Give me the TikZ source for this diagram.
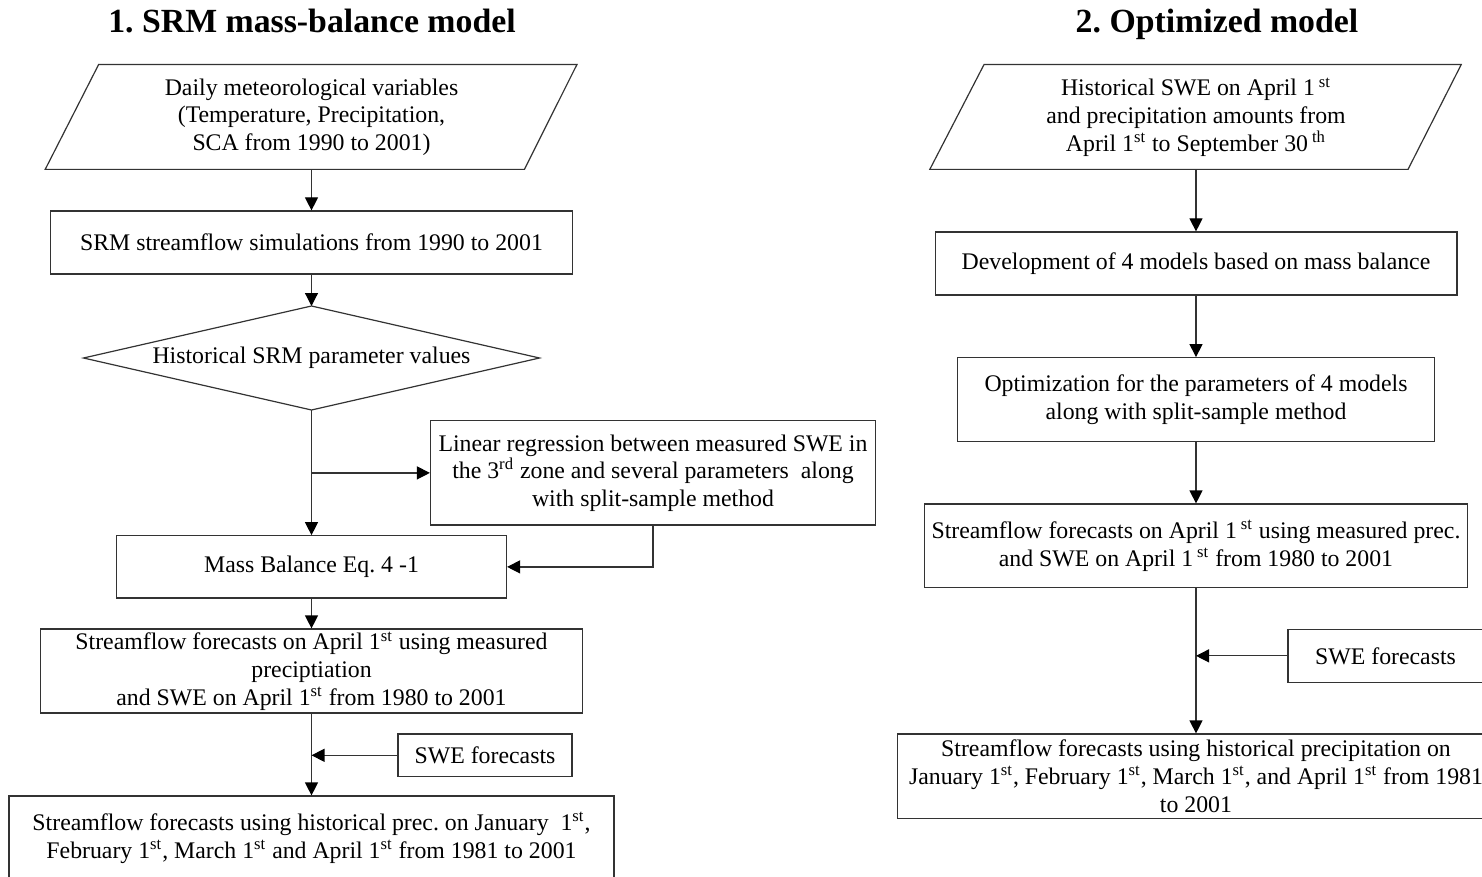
\documentclass[tikz,border=0pt]{standalone}
\usepackage{fontspec}
\setmainfont{Liberation Serif}
\usetikzlibrary{arrows.meta,calc}
\frenchspacing
\begin{document}
\begin{tikzpicture}[x=0.5pt,y=-0.5pt,
  box/.style={draw=black!80, line width=0.6pt, inner sep=0pt, align=center, font=\fontsize{11.9}{13.8}\selectfont},
  txt/.style={inner sep=0pt, align=center, font=\fontsize{11.9}{13.8}\selectfont},
  arr/.style={draw=black!80, line width=0.6pt, -{Triangle[length=6.5pt,width=6.5pt,fill=black,color=black]}},
  ln/.style={draw=black!80, line width=0.6pt},
  ttl/.style={font=\fontsize{16.9}{20}\selectfont\bfseries, inner sep=0pt, anchor=base}]
\useasboundingbox (0,0) rectangle (1482,877);

% ---------- left column ----------
\node[ttl] (t1) at (312,33) {1. SRM mass-balance model};

\node[txt, minimum width=212.5pt, minimum height=52pt] (p1) at (311.5,117)
  {Daily meteorological variables\\(Temperature, Precipitation,\\SCA from 1990 to 2001)};
\draw[ln] ($(p1.south west)+(-53.4,0)$) -- (p1.north west) -- ($(p1.north east)+(52.5,0)$) -- (p1.south east) -- cycle;

\node[box, minimum width=260.7pt, minimum height=31.5pt] (b1) at (311.5,242.5)
  {SRM streamflow simulations from 1990 to 2001};

\coordinate (dtop) at (311.5,306);
\coordinate (dbot) at (311.5,410);
\coordinate (dl) at (83.5,358);
\coordinate (dr) at (539.5,358);
\node[txt] (dtxt) at (311.5,358) {Historical SRM parameter values};
\draw[ln] (dtop) -- (dr) -- (dbot) -- (dl) -- cycle;

\node[box, minimum width=222.5pt, minimum height=52.15pt] (lr) at (653,472.9)
  {Linear regression between measured SWE in\\the 3\textsuperscript{rd} zone and several parameters\ \ along\\with split-sample method};

\node[box, minimum width=195pt, minimum height=31.15pt] (mb) at (311.5,566.9)
  {Mass Balance Eq. 4 -1};

\node[box, minimum width=271.35pt, minimum height=42pt] (f1) at (311.5,671)
  {Streamflow forecasts on April 1\textsuperscript{st} using measured\\preciptiation\\and SWE on April 1\textsuperscript{st} from 1980 to 2001};

\node[box, minimum width=87pt, minimum height=21.35pt] (swe1) at (485,755.3)
  {SWE forecasts};

\node[box, minimum width=302.5pt, minimum height=42pt] (f2) at (311.5,838)
  {Streamflow forecasts using historical prec. on January\ \ 1\textsuperscript{st},\\February 1\textsuperscript{st}, March 1\textsuperscript{st} and April 1\textsuperscript{st} from 1981 to 2001};

\draw[arr] (p1.south) -- (b1.north);
\draw[arr] (b1.south) -- (dtop);
\draw[arr] (dbot) -- (mb.north);
\draw[arr] (dbot |- lr.west) -- (lr.west);
\draw[arr] (lr.south) |- (mb.east);
\draw[arr] (mb.south) -- (f1.north);
\draw[arr] (f1.south) -- (f2.north);
\draw[arr] (swe1.west) -- (f1.south |- swe1.west);

% ---------- right column ----------
\node[ttl] (t2) at (1217,33) {2. Optimized model};

\node[txt, minimum width=211.6pt, minimum height=52pt] (p2) at (1196,117)
  {Historical SWE on April 1\,\textsuperscript{st}\\and precipitation amounts from\\April 1\textsuperscript{st} to September 30\,\textsuperscript{th}};
\draw[ln] ($(p2.south west)+(-54.2,0)$) -- (p2.north west) -- ($(p2.north east)+(53.2,0)$) -- (p2.south east) -- cycle;

\node[box, minimum width=260.9pt, minimum height=31.5pt] (r1) at (1196,263.5)
  {Development of 4 models based on mass balance};

\node[box, minimum width=238.75pt, minimum height=42pt] (r2) at (1196,399.7)
  {Optimization for the parameters of 4 models\\along with split-sample method};

\node[box, minimum width=271.25pt, minimum height=41.85pt] (r3) at (1196,545.85)
  {Streamflow forecasts on April 1\,\textsuperscript{st} using measured prec.\\and SWE on April 1\,\textsuperscript{st} from 1980 to 2001};

\node[box, minimum width=97.5pt, minimum height=26.35pt] (swe2) at (1385.5,655.85)
  {SWE forecasts};

\node[box, minimum width=298.85pt, minimum height=42.15pt] (r4) at (1196,776.15)
  {Streamflow forecasts using historical precipitation on\\January 1\textsuperscript{st}, February 1\textsuperscript{st}, March 1\textsuperscript{st}, and April 1\textsuperscript{st} from 1981\\to 2001};

\draw[arr] (p2.south) -- (r1.north);
\draw[arr] (r1.south) -- (r2.north);
\draw[arr] (r2.south) -- (r3.north);
\draw[arr] (r3.south) -- (r4.north);
\draw[arr] (swe2.west) -- (r3.south |- swe2.west);
\end{tikzpicture}
\end{document}
